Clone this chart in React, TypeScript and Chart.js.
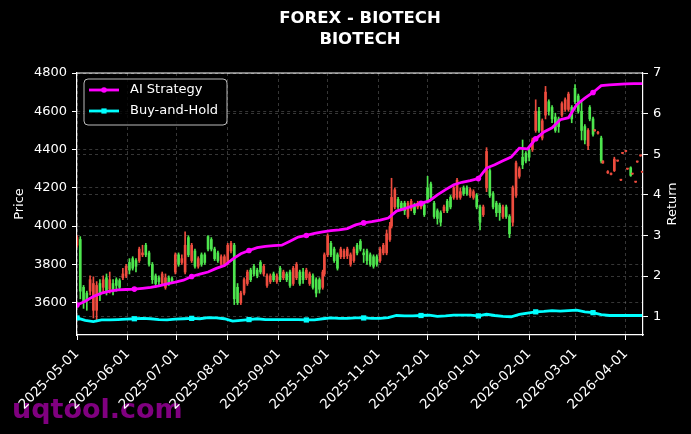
import React, { useEffect, useRef } from 'react';
import { Chart, registerables } from 'chart.js';

Chart.register(...registerables);

// ---------- data ----------
// day offsets from 2025-05-01
const candleDays = [0,2,4,6,8,10,12,14,16,18,20,22,24,26,28,30,32,34,36,38,40,42,44,46,48,50,52,54,56,58,60,62,64,66,68,70,72,74,76,78,80,82,84,86,88,90,92,94,96,98,100,102,104,106,108,110,112,114,116,118,120,122,124,126,128,130,132,134,136,138,140,142,144,146,148,150,151,153,155,157,159,161,163,165,167,169,171,173,175,177,179,181,183,185,187,189,191,192,194,196,198,200,202,204,206,208,210,212,214,216,218,220,222,224,226,228,230,232,234,236,238,240,242,244,246,248,250,252,254,256,258,260,262,264,266,268,270,272,274,276,278,280,282,284,286,288,290,292,294,296,298,300,302,304,306,308,310,312,313,315,316,318,320,321,324,326,328,330,332,333,335,336,338,339,341,342,344,345];
const opens = [3940,3660,3600,3610,3720,3700,3690,3640,3720,3660,3720,3660,3690,3680,3750,3790,3770,3780,3790,3880,3860,3850,3800,3720,3700,3710,3750,3730,3700,3710,3850,3800,3830,3900,3850,3900,3790,3830,3800,3810,3880,3880,3830,3820,3840,3840,3900,3910,3620,3600,3650,3720,3760,3720,3750,3740,3760,3790,3740,3740,3720,3740,3720,3760,3720,3690,3780,3800,3700,3720,3770,3750,3680,3650,3670,3760,3850,3950,3850,3820,3780,3880,3870,3880,3850,3880,3860,3880,3850,3820,3800,3790,3800,3880,3900,3960,4000,4150,4190,4100,4090,4080,4120,4130,4070,4120,4120,4060,4130,4150,4050,4040,4020,4100,4080,4100,4200,4240,4180,4170,4170,4190,4180,4100,4020,4100,4390,4160,4100,4070,4070,4100,4050,3960,4200,4330,4300,4320,4340,4360,4450,4600,4500,4550,4700,4600,4560,4500,4520,4640,4660,4690,4560,4650,4600,4500,4450,4500,4560,4480,4500,4490,4340,4340,4285,4275,4350,4342,4243,4382,4392,4300,4265,4274,4232,4337,4369,4284];
const highs = [3950,3945,3690,3660,3740,3735,3710,3720,3740,3750,3760,3720,3730,3725,3780,3800,3830,3840,3830,3890,3900,3910,3870,3810,3750,3740,3760,3750,3740,3735,3860,3860,3850,3970,3950,3910,3880,3840,3860,3860,3950,3940,3890,3870,3850,3850,3910,3920,3910,3700,3660,3730,3770,3780,3800,3780,3820,3800,3750,3750,3760,3750,3790,3770,3760,3770,3790,3810,3770,3780,3780,3760,3750,3730,3730,3770,3860,3960,3920,3890,3860,3890,3880,3890,3860,3890,3910,3930,3880,3880,3860,3850,3850,3890,3910,3980,4020,4250,4200,4150,4130,4130,4130,4140,4120,4130,4130,4120,4260,4230,4130,4090,4080,4110,4140,4160,4210,4250,4200,4210,4210,4200,4190,4170,4110,4110,4410,4300,4180,4130,4120,4110,4110,4060,4210,4340,4310,4450,4390,4410,4460,4660,4620,4560,4730,4660,4630,4590,4570,4650,4670,4700,4630,4740,4690,4650,4530,4510,4630,4570,4505,4495,4470,4342,4290,4278,4360,4345,4245,4385,4395,4302,4310,4276,4234,4340,4372,4286];
const lows = [3890,3620,3570,3560,3640,3520,3500,3610,3650,3640,3650,3640,3660,3670,3720,3730,3750,3770,3760,3810,3840,3840,3790,3700,3680,3690,3690,3670,3690,3700,3750,3790,3800,3750,3840,3810,3780,3780,3790,3800,3870,3870,3820,3810,3790,3790,3800,3860,3590,3590,3590,3640,3690,3710,3740,3730,3750,3740,3680,3700,3710,3700,3710,3720,3710,3680,3690,3720,3690,3700,3720,3690,3670,3630,3650,3670,3740,3840,3840,3810,3770,3830,3830,3830,3790,3810,3850,3870,3810,3800,3790,3780,3790,3810,3850,3850,3920,3990,4090,4090,4080,4060,4040,4080,4060,4090,4090,4050,4120,4140,4040,4010,4000,4070,4070,4090,4140,4140,4140,4160,4160,4150,4140,4090,3980,4050,4180,4150,4090,4050,4030,4040,4040,3940,4000,4150,4250,4300,4330,4340,4390,4490,4490,4450,4560,4580,4540,4490,4490,4570,4600,4600,4540,4640,4590,4450,4430,4400,4550,4470,4495,4480,4330,4328,4275,4268,4285,4338,4238,4378,4388,4296,4260,4270,4228,4333,4365,4280];
const closes = [3900,3930,3680,3650,3660,3560,3560,3700,3680,3730,3670,3700,3720,3715,3730,3740,3810,3830,3820,3820,3850,3900,3860,3800,3740,3730,3700,3680,3730,3725,3760,3850,3810,3760,3940,3820,3870,3790,3850,3850,3945,3930,3880,3860,3800,3800,3810,3870,3900,3680,3600,3650,3700,3770,3790,3770,3810,3750,3690,3710,3750,3710,3780,3730,3750,3760,3700,3730,3760,3760,3730,3700,3740,3720,3720,3680,3750,3850,3910,3880,3850,3840,3840,3845,3800,3820,3900,3920,3860,3870,3850,3840,3840,3820,3860,3860,3930,4000,4100,4140,4120,4120,4050,4090,4110,4100,4100,4110,4200,4220,4120,4080,4070,4080,4130,4150,4150,4150,4150,4200,4200,4160,4150,4160,4100,4060,4200,4290,4170,4120,4110,4050,4100,4050,4020,4160,4260,4360,4380,4400,4400,4500,4600,4460,4580,4650,4620,4570,4560,4580,4610,4610,4620,4720,4680,4600,4520,4420,4620,4560,4498,4485,4460,4330,4278,4270,4290,4340,4240,4380,4390,4298,4305,4272,4230,4335,4367,4282];

const lineDays = [0,5,10,15,20,25,30,35,40,45,50,55,60,65,70,75,80,85,90,95,100,105,110,115,120,125,130,135,140,145,150,155,160,165,170,175,180,185,190,195,200,205,210,215,220,225,230,235,240,245,250,255,260,265,270,275,280,285,290,295,300,305,310,315,320,325,330,335,340,345];
const aiStrategy = [1.29,1.38,1.50,1.58,1.63,1.66,1.67,1.68,1.70,1.72,1.76,1.81,1.85,1.90,1.99,2.05,2.10,2.19,2.26,2.42,2.55,2.63,2.70,2.73,2.75,2.76,2.86,2.96,3.00,3.05,3.09,3.12,3.14,3.17,3.26,3.31,3.34,3.38,3.43,3.60,3.66,3.73,3.79,3.85,4.00,4.13,4.25,4.31,4.35,4.40,4.66,4.74,4.84,4.93,5.15,5.13,5.38,5.55,5.65,5.85,5.90,6.22,6.38,6.52,6.69,6.71,6.72,6.73,6.74,6.74];
const buyHold = [0.97,0.91,0.88,0.92,0.92,0.93,0.94,0.95,0.96,0.95,0.93,0.92,0.94,0.95,0.96,0.95,0.98,0.97,0.95,0.89,0.91,0.93,0.95,0.93,0.93,0.93,0.93,0.93,0.92,0.92,0.95,0.97,0.96,0.96,0.97,0.97,0.96,0.96,0.98,1.03,1.02,1.02,1.03,1.04,1.01,1.02,1.04,1.04,1.04,1.02,1.06,1.03,1.01,1.00,1.06,1.09,1.12,1.13,1.15,1.14,1.15,1.16,1.12,1.10,1.05,1.03,1.03,1.03,1.03,1.03];

const tickDays = [0,31,61,92,123,153,184,214,245,276,304,335];
const tickLabels = ['2025-05-01','2025-06-01','2025-07-01','2025-08-01','2025-09-01','2025-10-01','2025-11-01','2025-12-01','2026-01-01','2026-02-01','2026-03-01','2026-04-01'];
const priceTicks = [3600,3800,4000,4200,4400,4600,4800];
const returnTicks = [1,2,3,4,5,6,7];

const titleLines = ['FOREX - BIOTECH', 'BIOTECH'];
const seriesNames = ['AI Strategy', 'Buy-and-Hold'];
const watermark = 'uqtool.com';

// ---------- styles ----------
const FONT = 'DejaVu Sans';
const GREEN = '#4ee64e';
const RED = '#ee4c3e';
const MAGENTA = '#ff00ff';
const CYAN = '#00ffff';
const GRID = 'rgba(150,150,150,0.45)';
const MARK_EVERY = 7;

const decorPlugin = {
  id: 'decor',
  beforeDraw(chart: any) {
    const { ctx, width, height } = chart;
    ctx.save();
    ctx.fillStyle = '#000';
    ctx.fillRect(0, 0, width, height);
    ctx.fillStyle = '#800080';
    ctx.font = `bold 27px "${FONT}"`;
    ctx.textBaseline = 'alphabetic';
    ctx.textAlign = 'left';
    ctx.fillText(watermark, 12, 418);
    ctx.restore();
  },
  afterDraw(chart: any) {
    const { ctx, chartArea } = chart;
    const { left, right, top, bottom } = chartArea;
    ctx.save();
    // top spine
    ctx.strokeStyle = '#fff';
    ctx.lineWidth = 1.2;
    ctx.beginPath();
    ctx.moveTo(left, top);
    ctx.lineTo(right, top);
    ctx.stroke();
    // right axis title
    ctx.save();
    ctx.translate(right + 30, (top + bottom) / 2);
    ctx.rotate(-Math.PI / 2);
    ctx.fillStyle = '#fff';
    ctx.font = `13px "${FONT}"`;
    ctx.textAlign = 'center';
    ctx.textBaseline = 'middle';
    ctx.fillText('Return', 0, 0);
    ctx.restore();
    // legend
    const lx = left + 7, ly = top + 6, lw = 143, lh = 46, r = 4;
    ctx.beginPath();
    ctx.moveTo(lx + r, ly);
    ctx.lineTo(lx + lw - r, ly);
    ctx.quadraticCurveTo(lx + lw, ly, lx + lw, ly + r);
    ctx.lineTo(lx + lw, ly + lh - r);
    ctx.quadraticCurveTo(lx + lw, ly + lh, lx + lw - r, ly + lh);
    ctx.lineTo(lx + r, ly + lh);
    ctx.quadraticCurveTo(lx, ly + lh, lx, ly + lh - r);
    ctx.lineTo(lx, ly + r);
    ctx.quadraticCurveTo(lx, ly, lx + r, ly);
    ctx.closePath();
    ctx.fillStyle = 'rgba(0,0,0,0.8)';
    ctx.fill();
    ctx.strokeStyle = 'rgba(220,220,220,0.85)';
    ctx.lineWidth = 1;
    ctx.stroke();
    const items = [
      { name: seriesNames[0], color: MAGENTA, shape: 'circle', y: ly + 11 },
      { name: seriesNames[1], color: CYAN, shape: 'rect', y: ly + 32 },
    ];
    items.forEach((it) => {
      ctx.strokeStyle = it.color;
      ctx.fillStyle = it.color;
      ctx.lineWidth = 2.8;
      ctx.beginPath();
      ctx.moveTo(lx + 5, it.y);
      ctx.lineTo(lx + 35, it.y);
      ctx.stroke();
      const cx = lx + 20;
      if (it.shape === 'circle') {
        ctx.beginPath();
        ctx.arc(cx, it.y, 2.8, 0, Math.PI * 2);
        ctx.fill();
      } else {
        ctx.fillRect(cx - 2.6, it.y - 2.6, 5.2, 5.2);
      }
      ctx.fillStyle = '#fff';
      ctx.font = `13px "${FONT}"`;
      ctx.textAlign = 'left';
      ctx.textBaseline = 'middle';
      ctx.fillText(it.name, lx + 46, it.y);
    });
    ctx.restore();
  },
};

export default function App() {
  const canvasRef = useRef<HTMLCanvasElement | null>(null);

  useEffect(() => {
    document.body.style.margin = '0';
    document.body.style.background = '#000';
    const canvas = canvasRef.current;
    if (!canvas) return;

    const colors = closes.map((c, i) => (c >= opens[i] ? GREEN : RED));
    const markerIdx = (i: number) => i % MARK_EVERY === 0;

    const gridCommon = {
      color: GRID,
      lineWidth: 0.8,
      tickColor: '#fff',
      tickLength: 5,
      tickWidth: 1,
      tickBorderDash: [],
      offset: false,
    };
    const borderCommon = { color: '#fff', width: 1.2, dash: [3, 3] };
    const tickFont = { family: FONT, size: 13 };

    const chart = new Chart(canvas, {
      type: 'bar',
      data: {
        datasets: [
          {
            type: 'line',
            label: seriesNames[0],
            data: lineDays.map((d, i) => ({ x: d, y: aiStrategy[i] })),
            xAxisID: 'x',
            yAxisID: 'y2',
            borderColor: MAGENTA,
            backgroundColor: MAGENTA,
            borderWidth: 2.8,
            pointStyle: 'circle',
            pointRadius: lineDays.map((_, i) => (markerIdx(i) ? 2.8 : 0)),
            pointBorderWidth: 0,
            tension: 0,
            order: 0,
          } as any,
          {
            type: 'line',
            label: seriesNames[1],
            data: lineDays.map((d, i) => ({ x: d, y: buyHold[i] })),
            xAxisID: 'x',
            yAxisID: 'y2',
            borderColor: CYAN,
            backgroundColor: CYAN,
            borderWidth: 2.8,
            pointStyle: 'rect',
            pointRadius: lineDays.map((_, i) => (markerIdx(i) ? 3.7 : 0)),
            pointBorderWidth: 0,
            tension: 0,
            order: 0,
          } as any,
          {
            type: 'bar',
            label: 'wick',
            data: candleDays.map((d, i) => ({ x: d, y: [lows[i], highs[i]] })),
            xAxisID: 'x',
            yAxisID: 'y',
            backgroundColor: colors,
            borderWidth: 0,
            barThickness: 1,
            grouped: false,
            order: 2,
          } as any,
          {
            type: 'bar',
            label: 'body',
            data: candleDays.map((d, i) => ({ x: d, y: [opens[i], closes[i]] })),
            xAxisID: 'x',
            yAxisID: 'y',
            backgroundColor: colors,
            borderWidth: 0,
            barThickness: 2,
            minBarLength: 1,
            grouped: false,
            order: 1,
          } as any,
        ],
      },
      options: {
        responsive: false,
        animation: false,
        events: [],
        layout: { padding: 0 },
        plugins: {
          legend: { display: false },
          tooltip: { enabled: false },
          title: {
            display: true,
            fullSize: false,
            text: titleLines,
            color: '#fff',
            font: { family: FONT, size: 16.5, weight: 'bold', lineHeight: 21 / 16.5 },
            padding: { top: 8, bottom: 23 },
          },
        },
        scales: {
          x: {
            type: 'linear',
            position: 'bottom',
            min: 0,
            max: 345.5,
            offset: false,
            afterBuildTicks: (s: any) => {
              s.ticks = tickDays.map((v) => ({ value: v }));
            },
            afterFit: (s: any) => {
              s.height = 99;
            },
            ticks: {
              autoSkip: false,
              maxRotation: 45,
              minRotation: 45,
              color: '#fff',
              font: { family: FONT, size: 13.5 },
              padding: 6,
              callback: (v: any) => {
                const i = tickDays.indexOf(Number(v));
                return i >= 0 ? tickLabels[i] : '';
              },
            },
            grid: gridCommon,
            border: borderCommon,
          } as any,
          y: {
            type: 'linear',
            position: 'left',
            min: 3431,
            max: 4800,
            afterBuildTicks: (s: any) => {
              s.ticks = priceTicks.map((v) => ({ value: v }));
            },
            afterFit: (s: any) => {
              s.width = 77;
            },
            ticks: {
              color: '#fff',
              font: tickFont,
              padding: 5,
              callback: (v: any) => String(v),
            },
            title: {
              display: true,
              text: 'Price',
              color: '#fff',
              font: { family: FONT, size: 13 },
              padding: { top: 12, bottom: 0 },
            },
            grid: gridCommon,
            border: borderCommon,
          } as any,
          y2: {
            type: 'linear',
            position: 'right',
            min: 0.55,
            max: 7,
            afterBuildTicks: (s: any) => {
              s.ticks = returnTicks.map((v) => ({ value: v }));
            },
            afterFit: (s: any) => {
              s.width = 48;
            },
            ticks: {
              color: '#fff',
              font: tickFont,
              padding: 5,
              callback: (v: any) => String(v),
            },
            grid: gridCommon,
            border: borderCommon,
          } as any,
        },
      },
      plugins: [decorPlugin],
    } as any);

    return () => chart.destroy();
  }, []);

  return (
    <div style={{ position: 'absolute', left: 0, top: 0, width: 691, height: 434, background: '#000' }}>
      <canvas ref={canvasRef} width={691} height={434} style={{ display: 'block', width: 691, height: 434 }} />
    </div>
  );
}
